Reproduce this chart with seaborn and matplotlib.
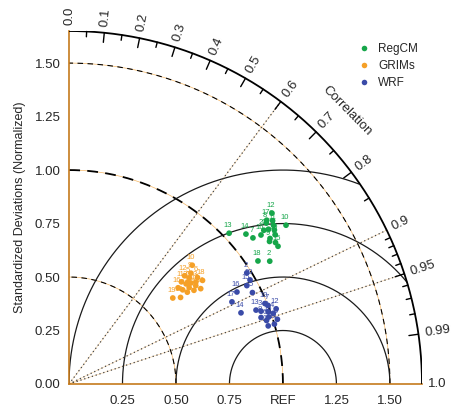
import numpy as np
import pandas as pd
import matplotlib
matplotlib.use("Agg")
import matplotlib.pyplot as plt
from matplotlib.lines import Line2D
import seaborn as sns

# ---------------- data (std normalized, correlation) ----------------
models = ["RegCM", "GRIMs", "WRF"]
colors = ["#16a64a", "#f5a027", "#3a4ba8"]

regcm_std = [1.18, 1.10, 1.20, 1.16, 1.17, 1.22, 1.098, 1.19, 1.15, 1.257,
             1.21, 1.24, 1.028, 1.084, 1.17, 1.136, 1.20, 1.054, 1.19, 1.16]
regcm_cor = [0.79, 0.853, 0.80, 0.81, 0.825, 0.78, 0.783, 0.775, 0.815, 0.807,
             0.79, 0.765, 0.728, 0.763, 0.835, 0.79, 0.77, 0.838, 0.81, 0.785]

grims_std = [0.74, 0.72, 0.76, 0.70, 0.75, 0.78, 0.73, 0.69, 0.77, 0.80,
             0.71, 0.74, 0.66, 0.76, 0.72, 0.68, 0.75, 0.79, 0.63, 0.73]
grims_cor = [0.77, 0.76, 0.78, 0.79, 0.75, 0.77, 0.80, 0.77, 0.74, 0.72,
             0.74, 0.73, 0.79, 0.81, 0.78, 0.75, 0.79, 0.79, 0.77, 0.76]

wrf_std = [0.99, 0.98, 0.96, 1.01, 0.958, 0.97, 1.00, 0.95, 1.02, 0.99,
           0.97, 1.03, 0.94, 0.870, 0.95, 0.895, 0.853, 1.00, 0.985, 0.976]
wrf_cor = [0.94, 0.848, 0.935, 0.945, 0.895, 0.952, 0.93, 0.945, 0.955, 0.925,
           0.96, 0.94, 0.93, 0.924, 0.875, 0.877, 0.893, 0.96, 0.948, 0.867]

point_ids = list(range(1, 21))

y_ticks = [0.00, 0.25, 0.50, 0.75, 1.00, 1.25, 1.50]
y_ticklabels = ["0.00", "0.25", "0.50", "0.75", "1.00", "1.25", "1.50"]
x_ticks = [0.25, 0.50, 0.75, 1.00, 1.25, 1.50]
x_ticklabels = ["0.25", "0.50", "0.75", "REF", "1.25", "1.50"]
corr_labels = [0.0, 0.1, 0.2, 0.3, 0.4, 0.5, 0.6, 0.7, 0.8, 0.9, 0.95, 0.99, 1.0]
corr_label_text = ["0.0", "0.1", "0.2", "0.3", "0.4", "0.5", "0.6", "0.7",
                   "0.8", "0.9", "0.95", "0.99", "1.0"]
std_circles = [0.5, 1.0, 1.5]
rms_circles = [0.25, 0.5, 0.75, 1.0]
corr_rays = [0.6, 0.9, 0.95]
RMAX = 1.65

# ---------------- build frame ----------------
rows = []
for m, s_arr, c_arr in [("RegCM", regcm_std, regcm_cor),
                        ("GRIMs", grims_std, grims_cor),
                        ("WRF", wrf_std, wrf_cor)]:
    for i, s, c in zip(point_ids, s_arr, c_arr):
        th = np.arccos(c)
        rows.append(dict(model=m, id=i, std=s, corr=c,
                         x=s * np.cos(th), y=s * np.sin(th)))
df = pd.DataFrame(rows)

sns.set_style("white")
plt.rcParams["font.family"] = ["Liberation Sans", "DejaVu Sans"]

fig = plt.figure(figsize=(4.51, 4.08), dpi=100)
ax = fig.add_axes([69 / 451, 24 / 408, 353 / 451, 353 / 408])
ax.set_xlim(0, RMAX)
ax.set_ylim(0, RMAX)

fringe = "#f2a540"

# std circles (dashed)
t = np.linspace(0, np.pi / 2, 300)
for s in std_circles:
    lw = 1.3 if s == 1.0 else 0.8
    ds = (6, 4) if s == 1.0 else (5, 4)
    ax.plot(s * np.cos(t), s * np.sin(t), color=fringe, lw=0.5, zorder=1,
            alpha=0.8)
    ax.plot(s * np.cos(t), s * np.sin(t), color="black", lw=lw,
            dashes=ds, zorder=2)

# rms circles (solid, centred on REF)
p = np.linspace(0, np.pi, 600)
for R in rms_circles:
    xx = 1 + R * np.cos(p)
    yy = R * np.sin(p)
    m = np.hypot(xx, yy) <= RMAX + 1e-9
    ax.plot(xx[m], yy[m], color="#1a1a1a", lw=0.9, zorder=2)

# correlation rays (dotted)
for c in corr_rays:
    th = np.arccos(c)
    ax.plot([0, RMAX * np.cos(th)], [0, RMAX * np.sin(th)], color=fringe,
            lw=0.4, zorder=1, alpha=0.5)
    ax.plot([0, RMAX * np.cos(th)], [0, RMAX * np.sin(th)], color="#444444",
            lw=0.9, dashes=(1, 2.2), zorder=2)

# outer arc
ax.plot(RMAX * np.cos(t), RMAX * np.sin(t), color="black", lw=1.3, zorder=3)

# ticks on outer arc
minor = list(np.round(np.arange(0.05, 0.90, 0.05), 2)) + \
        list(np.round(np.arange(0.91, 0.995, 0.01), 2))
for c in minor:
    th = np.arccos(c)
    major = any(abs(c - v) < 1e-6 for v in corr_labels)
    L = 0.045 if major else 0.025
    ax.plot([(RMAX - L) * np.cos(th), RMAX * np.cos(th)],
            [(RMAX - L) * np.sin(th), RMAX * np.sin(th)],
            color="black", lw=1.0, zorder=3, clip_on=False)

for c, lab in zip(corr_labels, corr_label_text):
    th = np.arccos(c)
    r = RMAX + 0.03
    ax.text(r * np.cos(th), r * np.sin(th), lab, rotation=np.degrees(th),
            rotation_mode="anchor", ha="left", va="center", fontsize=9.5,
            clip_on=False)

ax.text(1.82 * np.cos(np.radians(44.5)), 1.82 * np.sin(np.radians(44.5)),
        "Correlation", rotation=-45.5, rotation_mode="anchor",
        ha="center", va="center", fontsize=9.5, clip_on=False)

# points
palette = dict(zip(models, colors))
sns.scatterplot(data=df, x="x", y="y", hue="model", palette=palette,
                s=17, edgecolor="none", legend=False, ax=ax, zorder=5,
                clip_on=False)
for _, r in df.iterrows():
    ax.annotate(str(r["id"]), (r["x"], r["y"]), xytext=(-1, 3),
                textcoords="offset points", ha="center", va="bottom",
                fontsize=5.5, color=palette[r["model"]], zorder=6)

# axes styling
for side in ["top", "right"]:
    ax.spines[side].set_visible(False)
for side in ["left", "bottom"]:
    ax.spines[side].set_color("#c57a1c")
    ax.spines[side].set_linewidth(1.2)
ax.set_yticks(y_ticks)
ax.set_yticklabels(y_ticklabels)
ax.set_xticks(x_ticks)
ax.set_xticklabels(x_ticklabels)
ax.tick_params(axis="both", direction="in", length=5, width=1.0,
               color="black", labelsize=9.5)
ax.tick_params(axis="y", pad=6)
ax.tick_params(axis="x", pad=8)
ax.set_xlabel("")
ax.set_ylabel("Standardized Deviations (Normalized)", fontsize=9, labelpad=6)
ax.set_aspect("equal", adjustable="box")

handles = [Line2D([0], [0], marker="o", linestyle="none", markersize=4,
                  markerfacecolor=c, markeredgecolor="none") for c in colors]
fig.legend(handles, models, loc="upper left",
           bbox_to_anchor=(352 / 451, 1 - 38 / 408), frameon=False,
           fontsize=8.5, handletextpad=0.6, labelspacing=0.45,
           borderaxespad=0, handlelength=1.2)

fig.savefig("out.png", dpi=100)
